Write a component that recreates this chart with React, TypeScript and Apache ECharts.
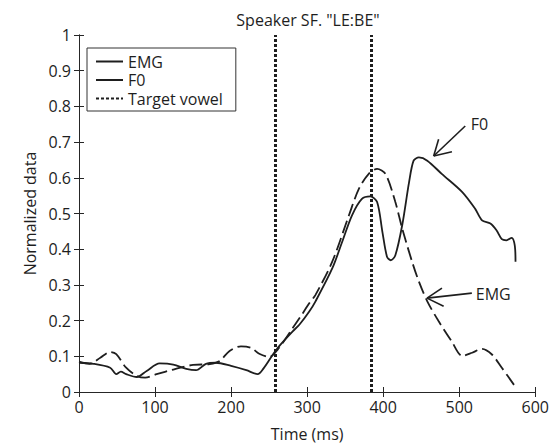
import React, { useEffect, useRef } from "react";
import * as echarts from "echarts";

const titleText = 'Speaker SF. "LE:BE"';
const xAxisName = "Time (ms)";
const yAxisName = "Normalized data";
const legendNames = ["EMG", "F0", "Target vowel"];

const emgX = [0, 14, 28, 41, 49, 62, 76, 87, 102, 124, 150, 172, 185, 198, 213, 226, 237, 250, 261, 281, 290, 303, 311, 333, 355, 368, 381, 392, 403, 416, 425, 438, 447, 458, 473, 490, 504, 517, 530, 543, 556, 573];
const emgY = [0.085, 0.079, 0.096, 0.112, 0.106, 0.068, 0.045, 0.04, 0.05, 0.063, 0.076, 0.078, 0.087, 0.115, 0.128, 0.124, 0.107, 0.098, 0.118, 0.179, 0.207, 0.249, 0.272, 0.365, 0.495, 0.569, 0.611, 0.625, 0.611, 0.532, 0.458, 0.365, 0.309, 0.254, 0.198, 0.142, 0.101, 0.11, 0.121, 0.105, 0.068, 0.017];

const f0X = [0, 19, 41, 49, 55, 62, 76, 89, 106, 124, 141, 154, 167, 180, 200, 220, 235, 242, 255, 263, 281, 290, 303, 311, 333, 346, 359, 372, 383, 392, 399, 405, 410, 416, 425, 434, 440, 447, 458, 477, 504, 521, 530, 541, 549, 556, 562, 569, 573, 574];
const f0Y = [0.082, 0.079, 0.068, 0.05, 0.057, 0.05, 0.042, 0.059, 0.08, 0.077, 0.065, 0.061, 0.079, 0.082, 0.073, 0.061, 0.05, 0.064, 0.105, 0.128, 0.17, 0.189, 0.226, 0.254, 0.346, 0.42, 0.495, 0.541, 0.548, 0.532, 0.448, 0.379, 0.369, 0.383, 0.467, 0.587, 0.648, 0.657, 0.648, 0.611, 0.56, 0.513, 0.481, 0.472, 0.453, 0.428, 0.425, 0.432, 0.411, 0.365];

const targetVowelX = [258, 384];

// annotation arrows: [tail, tip] and barbs, in data coordinates
const f0ArrowTail = [507.9, 0.745];
const f0ArrowTip = [466.4, 0.661];
const f0Barbs = [[472.9, 0.708], [490.4, 0.673]];
const f0LabelPos = [515, 0.752];

const emgArrowTail = [516.6, 0.277];
const emgArrowTip = [457.6, 0.263];
const emgBarbs = [[477.3, 0.291], [479.5, 0.24]];
const emgLabelPos = [521.8, 0.274];

const FONT = "'Open Sans', 'Noto Sans', sans-serif";
const INK = "#1e1e1e";

export default function App() {
  const ref = useRef<HTMLDivElement>(null);
  useEffect(() => {
    if (!ref.current) return;
    const chart = echarts.init(ref.current, null, { renderer: "svg" });
    const pair = (xs: number[], ys: number[]) => xs.map((x, i) => [x, ys[i]]);
    const seg = (a: number[], b: number[]) => [{ coord: a }, { coord: b }];
    const axisCommon = {
      type: "value" as const,
      axisLine: { show: true, lineStyle: { color: "#262626", width: 1 } },
      axisTick: { show: true, inside: true, length: 5, lineStyle: { color: "#262626" } },
      splitLine: { show: false },
    };
    const labelStyle = { fontSize: 16, color: INK, fontFamily: FONT };
    chart.setOption({
      animation: false,
      grid: { left: 79, right: 15, top: 35, bottom: 52.5, show: false },
      graphic: [
        {
          type: "text",
          x: 308,
          y: 20,
          style: {
            text: titleText,
            textAlign: "center",
            textVerticalAlign: "middle",
            fontSize: 16,
            fontFamily: FONT,
            fill: INK,
          },
        },
      ],
      legend: {
        orient: "vertical",
        left: 87,
        top: 48,
        data: [
          { name: legendNames[0], lineStyle: { type: "solid" } },
          { name: legendNames[1] },
          { name: legendNames[2] },
        ],
        itemWidth: 27,
        itemHeight: 14,
        itemGap: 1.5,
        padding: [5, 13, 4, 8],
        borderColor: "#333",
        borderWidth: 1,
        borderRadius: 0,
        selectedMode: false,
        itemStyle: { opacity: 0 },
        textStyle: { fontSize: 16, color: INK, fontFamily: FONT, lineHeight: 17 },
      },
      xAxis: [
        {
          ...axisCommon,
          position: "bottom",
          min: 0,
          max: 600,
          interval: 100,
          axisLabel: { ...labelStyle, margin: 7 },
          name: xAxisName,
          nameLocation: "middle",
          nameGap: 34,
          nameTextStyle: labelStyle,
        },
        {
          ...axisCommon,
          position: "top",
          min: 0,
          max: 600,
          interval: 100,
          axisLabel: { show: false },
        },
      ],
      yAxis: [
        {
          ...axisCommon,
          position: "left",
          min: 0,
          max: 1,
          interval: 0.1,
          axisLabel: {
            ...labelStyle,
            margin: 8,
            formatter: (v: number) => String(parseFloat(v.toFixed(1))),
          },
          name: yAxisName,
          nameLocation: "middle",
          nameGap: 36,
          nameTextStyle: labelStyle,
        },
        {
          ...axisCommon,
          position: "right",
          min: 0,
          max: 1,
          interval: 0.1,
          axisLabel: { show: false },
        },
      ],
      series: [
        {
          name: legendNames[0],
          type: "line",
          data: pair(emgX, emgY),
          symbol: "none",
          smooth: 0.3,
          lineStyle: { color: INK, width: 1.8, type: [13, 5] },
          itemStyle: { color: INK },
        },
        {
          name: legendNames[1],
          type: "line",
          data: pair(f0X, f0Y),
          symbol: "none",
          smooth: 0.3,
          lineStyle: { color: INK, width: 1.8, type: "solid" },
          itemStyle: { color: INK },
        },
        {
          name: legendNames[2],
          type: "line",
          data: [],
          symbol: "none",
          lineStyle: { color: INK, width: 3, type: [3, 2] },
          itemStyle: { color: INK },
          markLine: {
            silent: true,
            symbol: ["none", "none"],
            label: { show: false },
            lineStyle: { color: INK, width: 3, type: [3, 2] },
            data: targetVowelX.map((x) => ({ xAxis: x })),
          },
        },
        {
          name: "annotations",
          type: "line",
          data: [],
          symbol: "none",
          markLine: {
            silent: true,
            symbol: ["none", "none"],
            label: { show: false },
            lineStyle: { color: INK, width: 1.6, type: "solid" },
            data: [
              seg(f0ArrowTail, f0ArrowTip),
              seg(f0ArrowTip, f0Barbs[0]),
              seg(f0ArrowTip, f0Barbs[1]),
              seg(emgArrowTail, emgArrowTip),
              seg(emgArrowTip, emgBarbs[0]),
              seg(emgArrowTip, emgBarbs[1]),
            ],
          },
          markPoint: {
            silent: true,
            symbol: "circle",
            symbolSize: 0,
            label: {
              show: true,
              position: "right",
              distance: 0,
              formatter: "{b}",
              ...labelStyle,
            },
            data: [
              { name: "F0", coord: f0LabelPos },
              { name: "EMG", coord: emgLabelPos },
            ],
          },
        },
      ],
    });
    return () => chart.dispose();
  }, []);
  return (
    <div
      ref={ref}
      style={{ position: "fixed", left: 0, top: 0, width: 552, height: 447, background: "#fff" }}
    />
  );
}
